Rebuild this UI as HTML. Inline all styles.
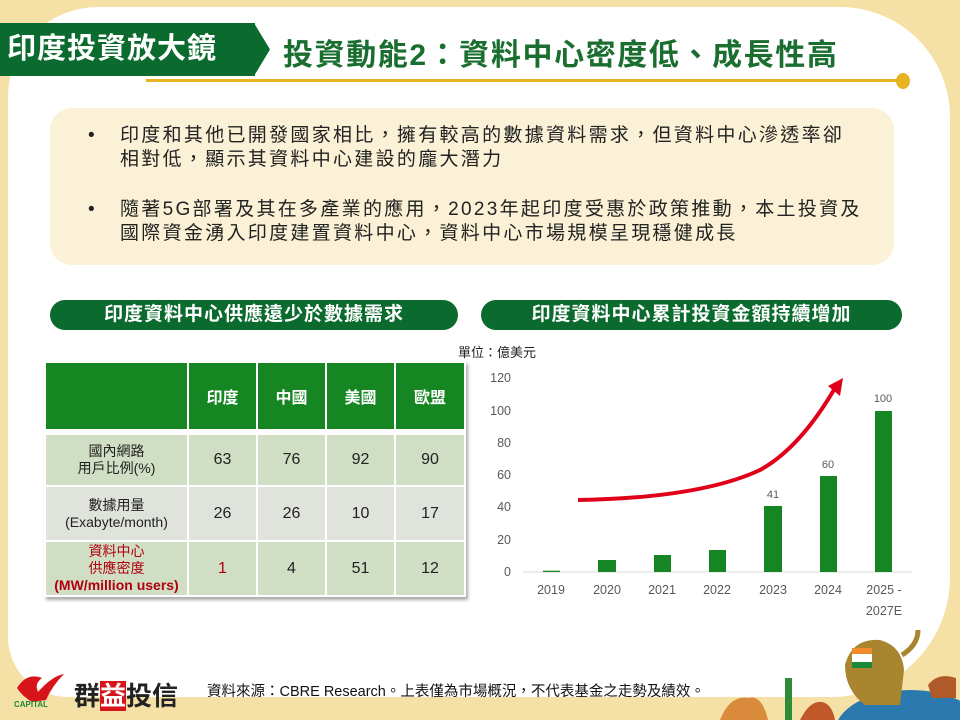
<!DOCTYPE html>
<html><head><meta charset="utf-8"><style>
html,body{margin:0;width:960px;height:720px;overflow:hidden}
body{background:#f5e0a5;font-family:"Liberation Sans","Noto Sans CJK TC",sans-serif;position:relative}
.abs{position:absolute}
.panel{left:8px;top:7px;width:942px;height:690px;background:#fff;border-radius:90px 110px 120px 60px}
.tag{left:0;top:23px;width:255px;height:53px;background:#0b6b2e;color:#fff;font-size:29px;font-weight:bold;line-height:53px;padding-left:7px;box-sizing:border-box;letter-spacing:1px;white-space:nowrap}
.title{left:283px;top:30px;color:#1a6e2f;font-size:30px;font-weight:bold;white-space:nowrap;letter-spacing:1.6px}
.box{left:50px;top:108px;width:844px;height:157px;background:#fbf1d6;border-radius:22px}
.bl{font-size:19px;color:#222;line-height:24px;white-space:nowrap;letter-spacing:2.3px}
.pill{height:30px;background:#0b6b2e;border-radius:15px;color:#fff;font-size:19px;font-weight:bold;text-align:center;line-height:30px;letter-spacing:1px}
table{border-collapse:collapse;position:absolute;left:44px;top:361px;box-shadow:2px 3px 3px #aaa}
td{border:2px solid #fff;text-align:center;font-size:16px;color:#222;padding:0}
</style></head><body>
<div class="abs panel"></div>
<div class="abs tag">印度投資放大鏡</div>
<svg class="abs" style="left:254px;top:23px" width="20" height="53"><polygon points="0,0 16,26.5 0,53" fill="#0b6b2e"/></svg>
<div class="abs title">投資動能2：資料中心密度低、成長性高</div>
<div class="abs" style="left:146px;top:79px;width:756px;height:3px;background:#e8b321"></div>
<div class="abs" style="left:896px;top:73px;width:14px;height:16px;border-radius:50%;background:#e8b321"></div>

<div class="abs box"></div>
<div class="abs bl" style="left:88px;top:124px">•</div>
<div class="abs bl" style="left:120px;top:124px">印度和其他已開發國家相比，擁有較高的數據資料需求，但資料中心滲透率卻<br>相對低，顯示其資料中心建設的龐大潛力</div>
<div class="abs bl" style="left:88px;top:198px">•</div>
<div class="abs bl" style="left:120px;top:198px">隨著5G部署及其在多產業的應用，2023年起印度受惠於政策推動，本土投資及<br>國際資金湧入印度建置資料中心，資料中心市場規模呈現穩健成長</div>

<div class="abs pill" style="left:50px;top:300px;width:408px">印度資料中心供應遠少於數據需求</div>
<div class="abs pill" style="left:481px;top:300px;width:421px">印度資料中心累計投資金額持續增加</div>

<table>
<tr style="height:68px;background:#168623;color:#fff"><td style="width:141px"></td><td style="width:67px;color:#fff;font-weight:bold">印度</td><td style="width:67px;color:#fff;font-weight:bold">中國</td><td style="width:67px;color:#fff;font-weight:bold">美國</td><td style="width:68px;color:#fff;font-weight:bold">歐盟</td></tr>
<tr style="height:4px;background:#fff"><td colspan="5" style="border:0"></td></tr>
<tr style="height:52px;background:#d0dec3"><td style="font-size:14px;line-height:17px">國內網路<br>用戶比例(%)</td><td>63</td><td>76</td><td>92</td><td>90</td></tr>
<tr style="height:55px;background:#dfe3dc"><td style="font-size:14px;line-height:17px">數據用量<br>(Exabyte/month)</td><td>26</td><td>26</td><td>10</td><td>17</td></tr>
<tr style="height:55px;background:#d0dec3"><td style="font-size:14px;line-height:17px;color:#b00010">資料中心<br>供應密度<br><b>(MW/million users)</b></td><td style="color:#b00010">1</td><td>4</td><td>51</td><td>12</td></tr>
</table>

<div class="abs" style="left:458px;top:342px;font-size:13px;color:#222">單位：億美元</div>
<svg class="abs" style="left:480px;top:360px" width="450" height="262" font-family="Liberation Sans, sans-serif" font-size="12.5" fill="#595959">
<g text-anchor="end"><text x="31" y="22">120</text><text x="31" y="55">100</text><text x="31" y="87">80</text><text x="31" y="119">60</text><text x="31" y="151">40</text><text x="31" y="184">20</text><text x="31" y="216">0</text></g>
<line x1="43" y1="212" x2="432" y2="212" stroke="#d9d9d9"/>
<g fill="#158623">
<rect x="63" y="210.7" width="17" height="1.3"/>
<rect x="118" y="200" width="18" height="12"/>
<rect x="174" y="195" width="17" height="17"/>
<rect x="229" y="190" width="17" height="22"/>
<rect x="284" y="146" width="18" height="66"/>
<rect x="340" y="116" width="17" height="96"/>
<rect x="395" y="51" width="17" height="161"/>
</g>
<g text-anchor="middle" font-size="11"><text x="293" y="138">41</text><text x="348" y="108">60</text><text x="403" y="42">100</text></g>
<g text-anchor="middle"><text x="71" y="234">2019</text><text x="127" y="234">2020</text><text x="182" y="234">2021</text><text x="237" y="234">2022</text><text x="293" y="234">2023</text><text x="348" y="234">2024</text><text x="404" y="234">2025 -</text><text x="404" y="255">2027E</text></g>
<path d="M98,140 Q220,138 280,110 Q320,88 355,28" fill="none" stroke="#e0001a" stroke-width="4"/>
<polygon points="363,18 348,26 360,36" fill="#e0001a"/>
</svg>

<svg class="abs" style="left:12px;top:670px" width="60" height="40"><path d="M5,18 Q15,2 30,8 Q22,14 26,22 Q40,6 52,4 Q40,16 34,30 L20,32 Q10,26 5,18Z" fill="#d7141a"/><text x="2" y="37" font-size="8" font-weight="bold" fill="#1a8a3a" font-family="Liberation Sans">CAPITAL</text></svg>
<div class="abs" style="left:74px;top:676px;font-size:26px;font-weight:bold;color:#222;white-space:nowrap">群<span style="background:#d7141a;color:#fff">益</span>投信</div>
<div class="abs" style="left:207px;top:680px;font-size:14.5px;color:#111;white-space:nowrap">資料來源：CBRE Research。上表僅為市場概況，不代表基金之走勢及績效。</div>

<svg class="abs" style="left:710px;top:620px" width="250" height="100">
<path d="M10,100 Q20,75 38,78 Q52,74 58,100Z" fill="#d98a3a"/>
<rect x="75" y="58" width="7" height="42" fill="#2f8a3a"/>
<path d="M90,100 Q100,80 112,82 Q122,84 125,100Z" fill="#c0582a"/>
<ellipse cx="200" cy="112" rx="75" ry="42" fill="#2a7ab0"/>
<path d="M135,45 Q142,18 170,20 Q192,26 194,50 L190,85 L155,85 Q135,70 135,45Z" fill="#a9852f"/>
<path d="M192,35 Q208,25 208,10" stroke="#a9852f" stroke-width="5" fill="none"/>
<rect x="142" y="28" width="20" height="20" fill="#fff"/><rect x="142" y="28" width="20" height="6" fill="#f28c28"/><rect x="142" y="42" width="20" height="6" fill="#1a8a3a"/>
<path d="M218,65 Q228,52 246,58 L246,78 L222,78Z" fill="#b05a2a"/>
</svg>
</body></html>
